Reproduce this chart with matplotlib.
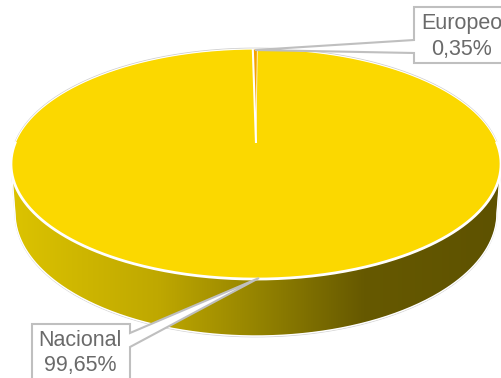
import numpy as np
import matplotlib
matplotlib.use("Agg")
import matplotlib.pyplot as plt
from matplotlib.colors import LinearSegmentedColormap
from matplotlib.patches import Polygon, PathPatch
from matplotlib.path import Path

categories = ["Europeo", "Nacional"]
shares = [0.35, 99.65]
value_labels = ["0,35%", "99,65%"]
slice_colors = ["#F5A200", "#FBD800"]

plt.rcParams["font.family"] = ["Liberation Sans", "DejaVu Sans"]

W, H = 502, 378
fig = plt.figure(figsize=(W / 100, H / 100), dpi=100)
ax = fig.add_axes([0, 0, 1, 1])


def project(u, v):
    """Perspective projection of the unit disc onto the canvas."""
    persp = 1 / (1 + 0.1827 * v)
    return 256 + 240.9 * u * persp, 143 - 111.2 * v * persp


def rim(start_deg, stop_deg, n=400):
    t = np.radians(np.linspace(start_deg, stop_deg, n))
    return project(np.cos(t), np.sin(t))


# Side wall: lower rim plus short flanks, shaded left to right
t = np.radians(np.linspace(180, 360, 300))
wall_x = np.r_[11, 256 + 241 * np.cos(t), 501]
wall_y = np.r_[164, 213 - 123 * np.sin(t), 164]
shade = LinearSegmentedColormap.from_list(
    "wall",
    [(0.0, "#DCC300"), (0.3, "#BFA800"), (0.5, "#958400"),
     (0.72, "#665900"), (1.0, "#5E5200")],
)
grad = ax.imshow(np.linspace(0, 1, 256)[None, :], cmap=shade, aspect="auto",
                 extent=[11, 501, 340, 160], zorder=1)
wall_patch = Polygon(np.c_[wall_x, wall_y], closed=True, transform=ax.transData,
                     fc="none", ec="none")
ax.add_patch(wall_patch)
grad.set_clip_path(wall_patch)
ax.plot(wall_x, wall_y + 0.9, color="#D2D2D2", lw=0.7, zorder=1.1)
ax.plot(wall_x, wall_y, color="white", lw=1.0, zorder=1.2)

# Top face: slices run clockwise from just left of twelve o'clock
start = 90.9
angles = start - np.r_[0, np.cumsum(shares)] * 3.6
cx, cy = project(0.0, 0.0)
rx, ry = rim(0, 360)
ax.plot(rx, ry - 0.8, color="#CFCFCF", lw=0.8, zorder=1.5)
for i in [1, 0]:
    sx, sy = rim(angles[i], angles[i + 1])
    ax.add_patch(Polygon(np.c_[np.r_[cx, sx], np.r_[cy, sy]], closed=True,
                         fc=slice_colors[i], ec="none", zorder=2))

# White slice separators and rim highlight
ex, ey = rim(angles[0], angles[0], 1)
ax.plot([cx, ex[0]], [cy, ey[0]], color="white", lw=1.5, zorder=3,
        solid_capstyle="butt")
ex, ey = rim(angles[1], angles[1], 1)
ax.plot([cx, ex[0]], [cy, ey[0]], color="white", lw=0.5, zorder=3,
        solid_capstyle="butt")
fx, fy = rim(180, 360)
ax.plot(fx, fy, color="white", lw=2.0, zorder=3)
bx, by = rim(0, 180)
ax.plot(bx, by, color="white", lw=0.8, zorder=3)

# Callouts: each box and its pointer form a single outline
box_color = "#BFBFBF"
callouts = [
    [(414, 7), (520, 7), (520, 63), (414, 63), (414, 53), (255, 50), (414, 40)],
    [(32, 324), (130, 324), (130, 333), (259, 278), (130, 347), (130, 400), (32, 400)],
]
for outline in callouts:
    codes = [Path.MOVETO] + [Path.LINETO] * (len(outline) - 1) + [Path.CLOSEPOLY]
    ax.add_patch(PathPatch(Path(outline + [outline[0]], codes), fc="white",
                           ec=box_color, lw=1.5, zorder=4, joinstyle="miter"))

text_style = dict(color="#6A6A6A", fontsize=15.5, ha="center", va="center", zorder=5)
ax.text(462, 23, categories[0], **text_style)
ax.text(462, 49, value_labels[0], **text_style)
ax.text(80, 341, categories[1], **text_style)
ax.text(80, 366, value_labels[1], **text_style)

ax.set_xlim(0, W)
ax.set_ylim(H, 0)
ax.axis("off")
fig.savefig("out.png", dpi=100)
